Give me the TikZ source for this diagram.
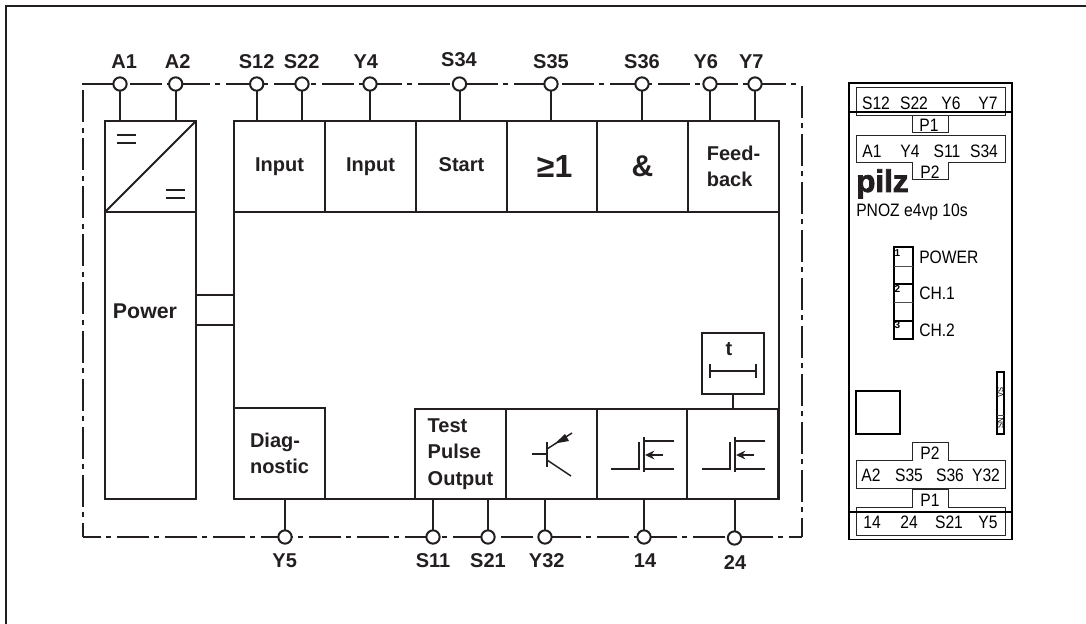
\documentclass[tikz,border=0pt]{standalone}
\usepackage{fontspec}
\setmainfont{Liberation Sans}
\newfontfamily\narrowf[FakeStretch=0.87]{Liberation Sans}
\newfontfamily\pilzf[FakeBold=2.5]{Liberation Sans Bold}
\usetikzlibrary{arrows.meta}
\definecolor{ink}{HTML}{231F20}
\newcommand{\fs}[1]{\fontsize{#1}{#1}\selectfont}
\tikzset{
  wh/.style 2 args={minimum width=#1*0.75pt, minimum height=#2*0.75pt},
  block/.style={draw=ink, line width=1.6pt, fill=white, inner sep=0pt, outer sep=0pt, text=ink,
    font=\bfseries\fontsize{15pt}{20pt}\selectfont, align=left},
  oneline/.style={text height=11.5pt, text depth=4pt},
  wire/.style={draw=ink, line width=1.5pt},
  sym/.style={draw=ink, line width=1.8pt},
  boundary/.style={draw=ink, line width=1.5pt, dash pattern=on 24pt off 3.8pt on 3.8pt off 4.4pt},
  term/.style={circle, draw=ink, line width=1.5pt, fill=white, minimum size=10pt, inner sep=0pt, outer sep=0pt},
  tlabel/.style={text=ink, font=\bfseries\fs{15pt}, inner sep=0pt},
  mline/.style={draw=black!85, line width=0.75pt},
  mtext/.style={text=black, font=\narrowf\fs{13.5pt}, inner sep=0pt},
}
\begin{document}
\begin{tikzpicture}[x=0.75pt,y=-0.75pt]
\useasboundingbox (0,0) rectangle (1086,624);
% page frame
\draw[ink, line width=1.2pt] (1086,6) -- (6,6) -- (6,624);
% dash-dotted enclosure
\draw[boundary] (82,84) -- (797,84);
\draw[boundary] (83,90.5) -- (83,537);
\draw[boundary, dash phase=10.7pt] (83,537) -- (801.5,537);
\draw[boundary] (801.5,86) -- (801.5,537);
% power supply
\node[block, wh={91}{91}] (conv) at (150.5,166.5) {};
\node[block, wh={91}{287}] (power) at (150.5,355.5) {};
\node[tlabel, font=\bfseries\fs{16pt}] (powertxt) at (145,311) {Power};
\draw[wire, line width=1.4pt] (conv.south west) -- (conv.north east);
\draw[sym] (117,135) -- (136,135) (117,143) -- (136,143);
\draw[sym] (166,190) -- (185,190) (166,198) -- (185,198);
% main body
\node[block, wh={545}{287}] (main) at (506.5,355.5) {};
% top row
\node[block, oneline, wh={91}{91}] (inA) at (279.5,166.5) {Input};
\node[block, oneline, wh={91}{91}] (inB) at (370.5,166.5) {Input};
\node[block, oneline, wh={91}{91}] (start) at (461.5,166.5) {Start};
\node[block, wh={90}{91}, font=\bfseries\fs{24pt}] (orb) at (552,166.5) {\hspace*{4pt}≥1};
\node[block, wh={91}{91}, font=\bfseries\fs{22.5pt}] (andb) at (642.5,166.5) {\&};
\node[block, wh={91}{91}] (fb) at (733.5,166.5) {Feed-\\back};
% bottom row
\node[block, wh={91}{91}] (diag) at (279.5,453.5) {Diag-\\nostic};
\node[block, wh={91}{90}] (test) at (460.5,454) {Test\\Pulse\\Output};
\node[block, wh={91}{90}] (trans) at (551.5,454) {};
\node[block, wh={90}{90}] (fetA) at (642,454) {};
\node[block, wh={91}{90}] (fetB) at (732.5,454) {};
% links power -> main
\coordinate (linkA) at (215,295);
\coordinate (linkB) at (215,325);
\draw[wire, line width=1.3pt] (linkA -| power.east) -- (linkA -| main.west);
\draw[wire, line width=1.3pt] (linkB -| power.east) -- (linkB -| main.west);
% timer
\node[block, wh={62}{61}] (timer) at (733,363.5) {};
\node[tlabel] (ttxt) at (729,349) {t};
\draw[sym] (710,371) -- (756,371) (710,364) -- (710,378) (756,364) -- (756,378);
\coordinate (tlink) at (733,400);
\draw[wire, line width=1.3pt] (timer.south -| tlink) -- (tlink |- fetB.north);
% transistor symbol
\draw[wire, line width=1.2pt] (532,454) -- (547,454);
\draw[wire] (547,442) -- (547,467);
\draw[wire, line width=1.1pt] (547,460) -- (571,476);
\draw[wire, line width=1.1pt] (547,449) -- (572,433);
\draw[draw=none, fill=ink] (555,443.5) -- (565,434) -- (569,441) -- cycle;
% FET symbols
\foreach \d in {0,91}{
  \draw[wire] ({611+\d},469) -- ({639+\d},469) -- ({639+\d},442);
  \draw[sym] ({644+\d},437) -- ({644+\d},472);
  \draw[wire] ({644+\d},441) -- ({674+\d},441);
  \draw[wire] ({644+\d},469) -- ({674+\d},469);
  \draw[wire, -{Stealth[length=7pt,width=6.5pt]}] ({663+\d},455) -- ({645+\d},455);
}
% terminals top
\foreach \n/\x/\l/\lx/\ly/\b in {A1/120/A1/124.2/62/conv,A2/175.7/A2/177.7/62/conv,S12/256.7/S12/256.7/62/inA,S22/302/S22/301.7/62/inA,Y4/370/Y4/365.8/62/inB,S34/459.5/S34/459/60/start,S35/551/S35/551/62/orb,S36/642/S36/642/62/andb,Y6/710/Y6/705.8/62/fb,Y7/755/Y7/751.3/62/fb}{
  \node[term] (t\n) at (\x,84) {};
  \draw[wire] (t\n) -- (t\n |- \b.north);
  \node[tlabel] (l\n) at (\lx,\ly) {\l};
}
% terminals bottom
\foreach \n/\x/\l/\lx/\ty/\ly/\b in {Y5/285/Y5/284.7/537/561/diag,S11/433/S11/433/537/561/test,S21/488/S21/488/537/561/test,Y32/545/Y32/546.7/537/561/trans,T14/644/14/645/537/561/fetA,T24/734.5/24/735/538/563/fetB}{
  \node[term] (t\n) at (\x,\ty) {};
  \draw[wire] (t\n) -- (t\n |- \b.south);
  \node[tlabel] (l\n) at (\lx,\ly) {\l};
}
% ---------- front view of the device ----------
\node[draw=black, line width=1.3pt, wh={163}{456.5}, inner sep=0pt] (case) at (930.5,311.25) {};
% connector outlines
\draw[mline] (856,88) rectangle (1005,116);
\draw[mline] (912,116) -- (912,133) -- (948,133) -- (948,116);
\draw[mline] (856,136) -- (1005,136) -- (1005,163) -- (948,163) -- (948,180) -- (912,180) -- (912,163) -- (856,163) -- cycle;
\draw[mline] (856,460) -- (912,460) -- (912,442) -- (948,442) -- (948,460) -- (1005,460) -- (1005,488) -- (856,488) -- cycle;
\draw[mline] (856,507) -- (912,507) -- (912,489) -- (948,489) -- (948,507) -- (1005,507) -- (1005,535) -- (856,535) -- cycle;
\coordinate (hTop) at (930,112);
\coordinate (hBot) at (930,512);
\draw[black, line width=1.3pt] (hTop -| case.west) -- (hTop -| case.east);
\draw[black, line width=1.3pt] (hBot -| case.west) -- (hBot -| case.east);
\foreach \t/\x/\y in {S12/876/103,S22/914/103,Y6/951/103,Y7/988/103,P1/929/125,A1/872/151,Y4/910/151,S11/947/151,S34/984/151,P2/930/172,P2/930/453,A2/871/475,S35/909/475,S36/950/475,Y32/986/475,P1/930/500,14/872/522,24/909/522,S21/949/522,Y5/988/522}{
  \node[mtext] at (\x,\y) {\t};
}
% logo and type
\node[anchor=base west, inner sep=0pt, text=ink, font=\pilzf\fs{23.5pt}] (logo) at (856,192) {pilz};
\node[mtext, anchor=west] (type) at (856,212) {PNOZ e4vp 10s};
% LEDs
\node[draw=black, line width=1.5pt, wh={18.7}{92}, inner sep=0pt] (leds) at (903.3,293) {};
\foreach \y in {284,321}{\draw[black, line width=1.2pt] (894,\y) -- (912.7,\y);}
\foreach \y in {266,302}{\draw[black!70, line width=0.6pt] (894,\y) -- (912.7,\y);}
\foreach \t/\y in {1/253,2/289,3/325}{\node[inner sep=0pt, font=\bfseries\fs{7.5pt}] at (897.5,\y) {\t};}
\node[mtext, anchor=west] (ledA) at (919,257) {POWER};
\node[mtext, anchor=west] (ledB) at (919,293) {CH.1};
\node[mtext, anchor=west] (ledC) at (919,330) {CH.2};
% square
\node[draw=black, line width=1.2pt, wh={44}{43}, inner sep=0pt] (sq) at (878,412.5) {};
% slim strip
\node[draw=black, line width=1.3pt, wh={7}{62}, inner sep=0pt] (strip) at (1000.5,403) {};
\draw[black!70, line width=0.5pt] (997,415) -- (1004,415);
\node[rotate=90, inner sep=0pt, font=\narrowf\fs{6.5pt}] at (1000.5,392) {VS};
\node[rotate=90, inner sep=0pt, font=\narrowf\fs{6.5pt}] at (1000.5,423) {SN};
\end{tikzpicture}
\end{document}
